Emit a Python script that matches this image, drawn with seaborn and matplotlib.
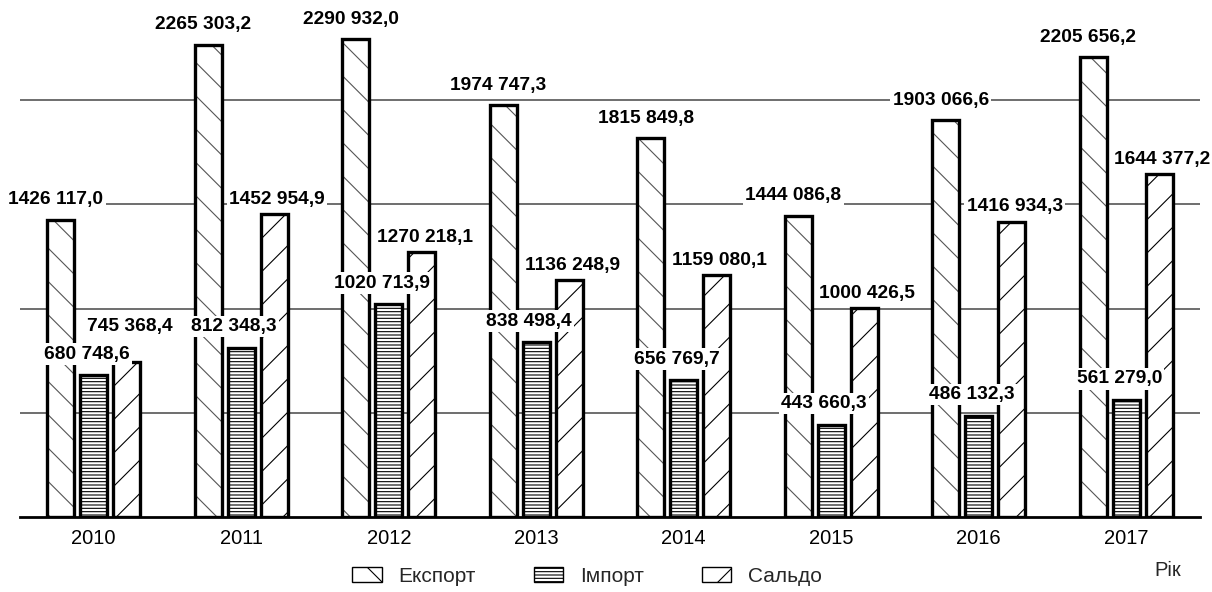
import matplotlib
matplotlib.use("Agg")
import matplotlib.pyplot as plt
from matplotlib.patches import Patch
import seaborn as sns
import pandas as pd

years = ["2010", "2011", "2012", "2013", "2014", "2015", "2016", "2017"]
series_names = ["Експорт", "Імпорт", "Сальдо"]
export_vals = [1426117.0, 2265303.2, 2290932.0, 1974747.3, 1815849.8, 1444086.8, 1903066.6, 2205656.2]
import_vals = [680748.6, 812348.3, 1020713.9, 838498.4, 656769.7, 443660.3, 486132.3, 561279.0]
saldo_vals = [745368.4, 1452954.9, 1270218.1, 1136248.9, 1159080.1, 1000426.5, 1416934.3, 1644377.2]
x_axis_label = "Рік"

sns.set_theme(style="white")
plt.rcParams["font.family"] = ["Liberation Sans", "DejaVu Sans"]
plt.rcParams["hatch.linewidth"] = 0.8

df = pd.DataFrame({
    "year": years * 3,
    "series": [series_names[0]] * 8 + [series_names[1]] * 8 + [series_names[2]] * 8,
    "value": export_vals + import_vals + saldo_vals,
})

W, H = 1212, 592
fig = plt.figure(figsize=(W / 100, H / 100), dpi=100)
ax_h_px = 517
ax = fig.add_axes([20 / W, 1 - ax_h_px / H, 1180 / W, ax_h_px / H])

sns.barplot(data=df, x="year", y="value", hue="series", hue_order=series_names,
            order=years, palette=["white"] * 3, width=0.67, gap=0.18,
            edgecolor="black", linewidth=2.4, ax=ax, legend=False, errorbar=None)

hatches = ["\\", "-----", "/"]
hatch_colors = ["#555555", "black", "black"]
for cont, h, hc in zip(ax.containers, hatches, hatch_colors):
    for p in cont.patches:
        p.set_hatch(h)
        p._hatch_color = matplotlib.colors.to_rgba(hc)
        p.set_zorder(3)

ymax = 2480000
ax.set_xlim(-0.5, 7.5)
ax.set_ylim(0, ymax)
ax.set_yticks([500000, 1000000, 1500000, 2000000])
ax.set_yticklabels([])
ax.yaxis.grid(True, color="#555555", linewidth=1.2)
ax.set_axisbelow(True)
for s in ["left", "right", "top"]:
    ax.spines[s].set_visible(False)
ax.spines["bottom"].set_color("black")
ax.spines["bottom"].set_linewidth(2)
ax.spines["bottom"].set_zorder(4)
ax.tick_params(axis="x", length=0, pad=9, labelsize=14.5, colors="black")
ax.tick_params(axis="y", length=0)
ax.set_xlabel("")
ax.set_ylabel("")


def fmt(v):
    s = f"{v:.1f}".replace(".", ",")
    ip, dp = s.split(",")
    if len(ip) > 3:
        ip = ip[:-3] + " " + ip[-3:]
    return ip + "," + dp


px_per_unit = ax_h_px / ymax
label_style = dict(ha="center", va="center", fontsize=13.8, fontweight="bold", color="black",
                   zorder=6, textcoords="offset pixels", annotation_clip=False,
                   bbox=dict(boxstyle="square,pad=0.12", facecolor="white", edgecolor="none"))

exp_c, imp_c, sal_c = ax.containers
for i in range(len(years)):
    pe, pi, ps = exp_c.patches[i], imp_c.patches[i], sal_c.patches[i]
    for p, dx, dy in [(pe, -5, 20), (pi, -7, 21)]:
        xc = p.get_x() + p.get_width() / 2
        ax.annotate(fmt(p.get_height()), (xc, p.get_height()), xytext=(dx, dy), **label_style)
    # saldo label: keep clear of the import label beside it
    imp_label_px = pi.get_height() * px_per_unit + 21
    sal_top_px = ps.get_height() * px_per_unit
    dy_s = max(15, imp_label_px + 28 - sal_top_px)
    xc = ps.get_x() + ps.get_width() / 2
    ax.annotate(fmt(ps.get_height()), (xc, ps.get_height()), xytext=(3, dy_s), **label_style)

handles = [Patch(facecolor="white", edgecolor="black", hatch=h, linewidth=1.0) for h in hatches]
fig.legend(handles, series_names, loc="center", bbox_to_anchor=(587 / W, 1 - 576 / H),
           ncol=3, frameon=False, fontsize=15, handlelength=1.4, handleheight=0.75,
           handletextpad=0.8, columnspacing=2.8)

fig.text(1168 / W, 1 - 570 / H, x_axis_label, ha="center", va="center", fontsize=14.5)

fig.savefig("out.png", dpi=100)
